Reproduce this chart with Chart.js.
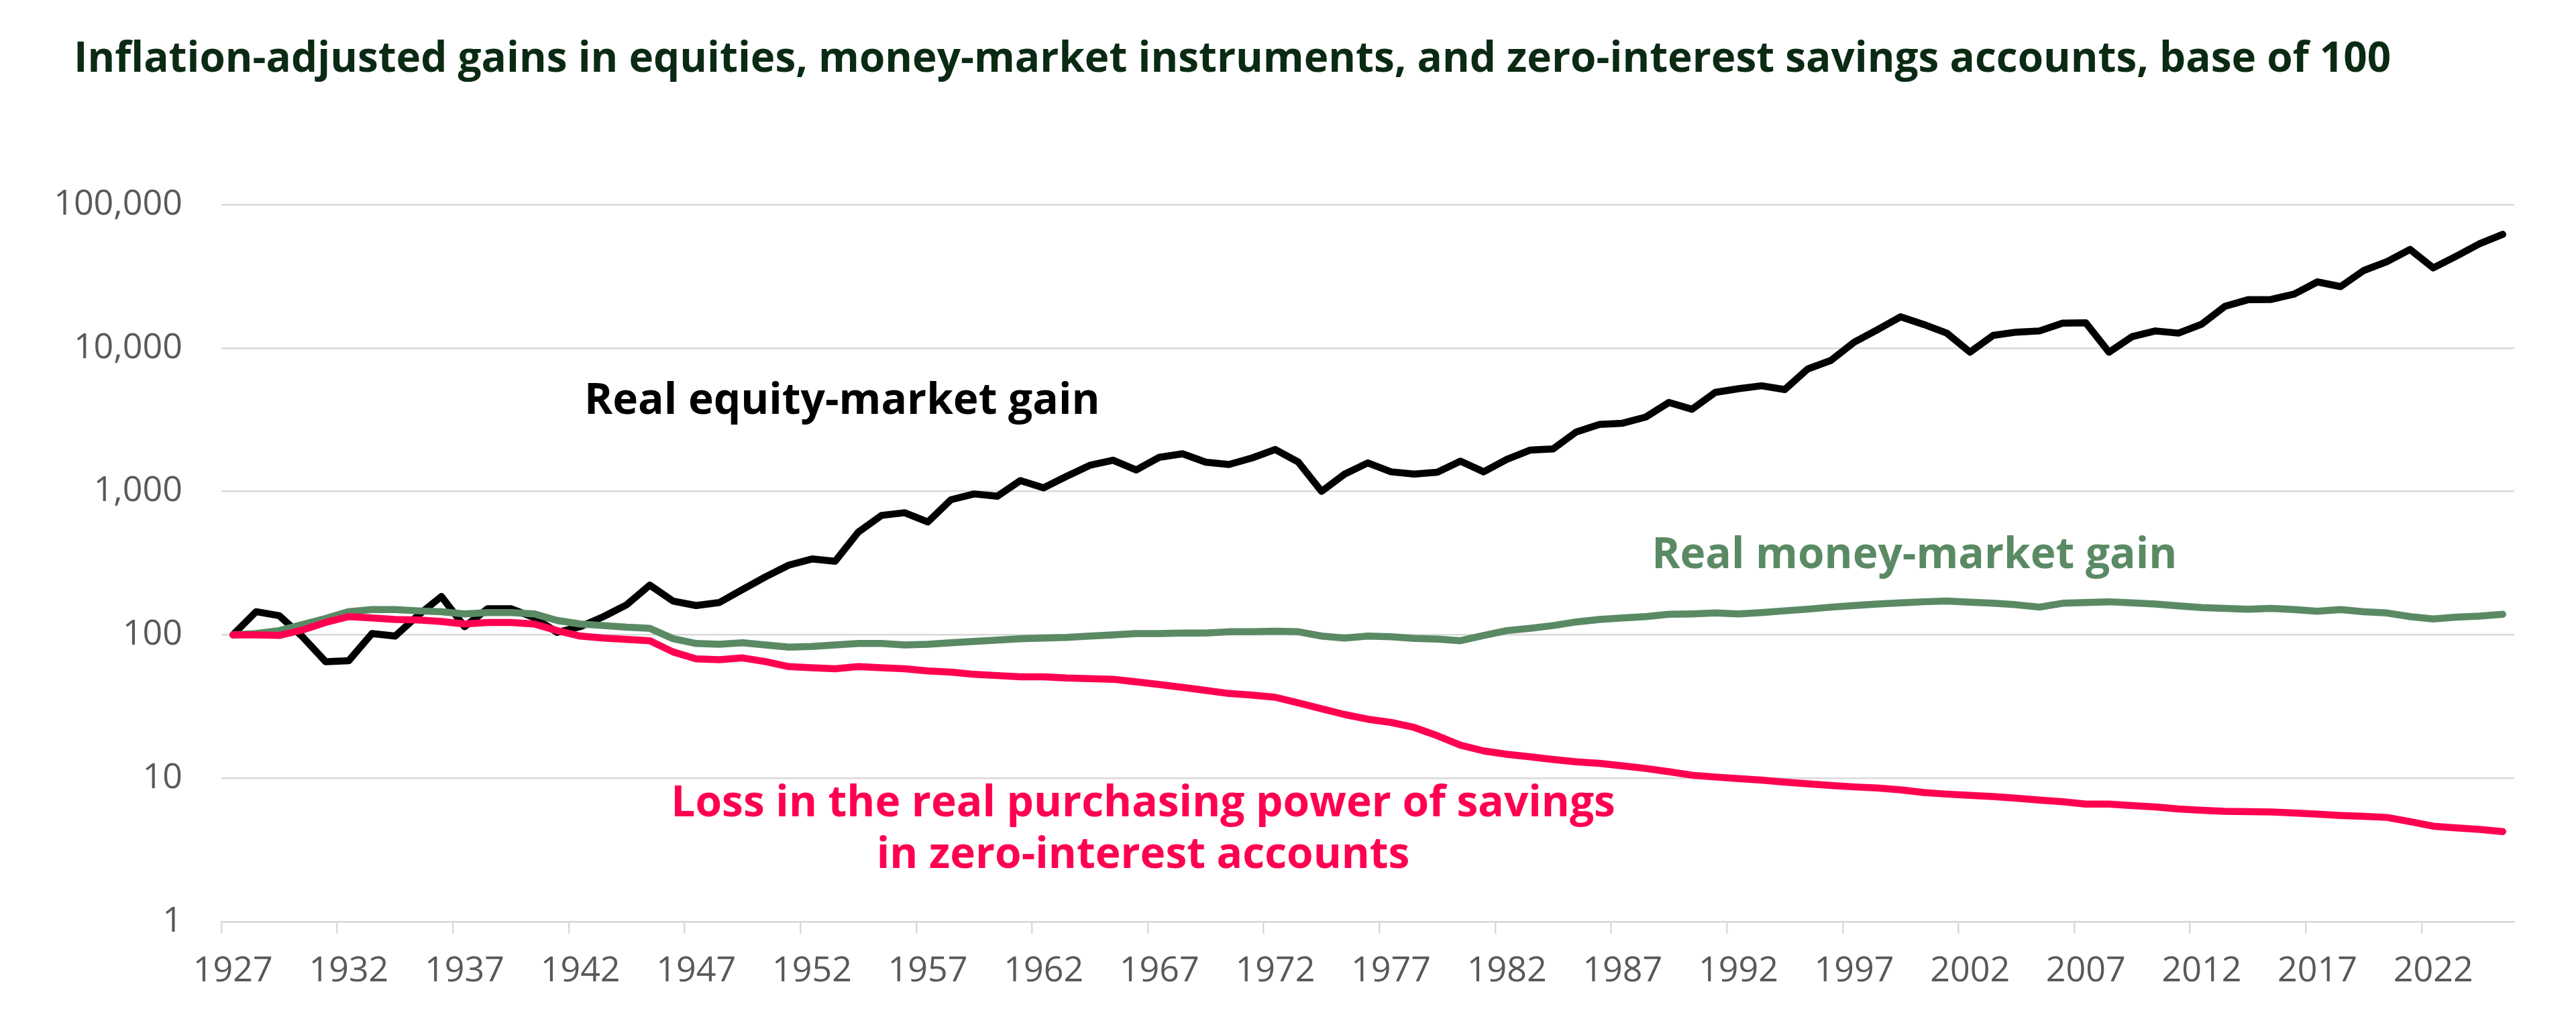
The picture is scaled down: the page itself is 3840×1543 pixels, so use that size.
<!DOCTYPE html>
<html>
<head>
<meta charset="utf-8">
<script src="https://cdn.jsdelivr.net/npm/chart.js@4.4.1/dist/chart.umd.min.js"></script>
<style>
html,body{margin:0;padding:0;background:#ffffff;}
#wrap{width:3840px;height:1543px;position:relative;}
</style>
</head>
<body>
<div id="wrap"><canvas id="c"></canvas></div>
<script>
const years = [1927,1928,1929,1930,1931,1932,1933,1934,1935,1936,1937,1938,1939,1940,1941,1942,1943,1944,1945,1946,
1947,1948,1949,1950,1951,1952,1953,1954,1955,1956,1957,1958,1959,1960,1961,1962,1963,1964,1965,1966,
1967,1968,1969,1970,1971,1972,1973,1974,1975,1976,1977,1978,1979,1980,1981,1982,1983,1984,1985,1986,
1987,1988,1989,1990,1991,1992,1993,1994,1995,1996,1997,1998,1999,2000,2001,2002,2003,2004,2005,2006,
2007,2008,2009,2010,2011,2012,2013,2014,2015,2016,2017,2018,2019,2020,2021,2022,2023,2024,2025];

const equityGain = [100,145,136,97,65,66,102,98,137,185,114,152,152,132,104,114,134,162,222,172,
160,168,207,254,306,338,326,520,680,710,612,875,960,925,1190,1060,1275,1520,1650,1410,
1730,1830,1600,1540,1710,1960,1600,1000,1320,1580,1370,1320,1360,1625,1370,1670,1940,1980,2600,2930,
2990,3300,4170,3740,4900,5200,5450,5130,7150,8200,10980,13400,16500,14600,12700,9350,12240,12900,13150,14900,
15000,9350,12000,13150,12700,14650,19500,21700,21800,23800,28900,26800,34700,40000,48700,36200,43700,53300,62000];

const moneyMarketGain = [100,102,107,118,130,145,150,150,147,145,140,143,143,140,126,119,116,113,111,94,
87,86,88,85,82,83,85,87,87,85,86,88,90,92,94,95,96,98,100,102,
102,103,103,105,105,106,105,98,95,98,97,94.5,93.5,91,99,107,111,116,123,128,
131,134,139,140,142,140,143,147,151,156,160,164,167,170,172,169,166,162,156,166,
168,170,167,164,159,155,153,151,153,150,146,150,145,142,134,129,133,135,139];

const zeroInterestSavings = [100,100,99,108,122,134,131,128,127,124,119,122,122,119,107,98,95,93,91,76,
68,67,69,65,60,59,58,60,59,58,56,55,53,52,51,51,50,49.5,49,47,
45,43,41,39,38,36.7,33.5,30.5,27.8,25.8,24.5,22.6,19.8,17,15.5,14.7,14.1,13.5,13,12.7,
12.2,11.7,11.1,10.5,10.2,9.95,9.7,9.4,9.15,8.9,8.7,8.55,8.3,7.95,7.75,7.6,7.45,7.25,7.05,6.85,
6.6,6.6,6.45,6.3,6.1,5.97,5.88,5.85,5.82,5.72,5.62,5.5,5.42,5.33,4.98,4.63,4.5,4.4,4.25];

const xTickYears = [1927,1932,1937,1942,1947,1952,1957,1962,1967,1972,1977,1982,1987,1992,1997,2002,2007,2012,2017,2022];
const yTickValues = [1,10,100,1000,10000,100000];

const titleText = 'Inflation-adjusted gains in equities, money-market instruments, and zero-interest savings accounts, base of 100';
const seriesNames = ['Real equity-market gain','Real money-market gain','Loss in the real purchasing power of savings'];

const COLORS = { equity:'#000000', money:'#5a8a64', savings:'#ff0050', title:'#0b2a13', axis:'#595959', grid:'#d9d9d9' };

// annotation anchors in data space: x = category index, y = value (baseline)
const annotations = [
  { text:'Real equity-market gain', x:26.3, y:3470, color:COLORS.equity },
  { text:'Real money-market gain', x:72.6, y:292, color:COLORS.money },
  { text:'Loss in the real purchasing power of savings', x:39.3, y:5.42, color:COLORS.savings },
  { text:'in zero-interest accounts', x:39.3, y:2.37, color:COLORS.savings }
];

const textPlugin = {
  id:'textPlugin',
  afterDraw(chart){
    const ctx = chart.ctx;
    ctx.save();
    ctx.textBaseline = 'alphabetic';
    ctx.font = '700 62px "Open Sans"';
    ctx.fillStyle = COLORS.title;
    ctx.textAlign = 'left';
    ctx.fillText(titleText, 110, 107);
    const xs = chart.scales.x, ys = chart.scales.y;
    ctx.font = '700 64px "Open Sans"';
    ctx.textAlign = 'center';
    annotations.forEach(a => {
      ctx.fillStyle = a.color;
      ctx.fillText(a.text, xs.getPixelForValue(a.x), ys.getPixelForValue(a.y));
    });
    ctx.restore();
  }
};

const tickColorFn = (c) => (c.index !== undefined && xTickYears.includes(years[c.index])) ? COLORS.grid : 'rgba(0,0,0,0)';

new Chart(document.getElementById('c'), {
  type:'line',
  data:{
    labels: years,
    datasets:[
      { label:seriesNames[0], data:equityGain, borderColor:COLORS.equity, order:3 },
      { label:seriesNames[1], data:moneyMarketGain, borderColor:COLORS.money, order:2 },
      { label:seriesNames[2], data:zeroInterestSavings, borderColor:COLORS.savings, order:1 }
    ]
  },
  options:{
    responsive:true,
    maintainAspectRatio:false,
    devicePixelRatio:1,
    animation:false,
    layout:{ padding:{ top:305, right:92, left:0, bottom:0 } },
    elements:{
      line:{ borderWidth:10.5, tension:0, borderJoinStyle:'round', borderCapStyle:'round', fill:false },
      point:{ radius:0, hoverRadius:0 }
    },
    plugins:{ legend:{display:false}, title:{display:false}, tooltip:{enabled:false} },
    scales:{
      x:{
        type:'category',
        offset:true,
        grid:{ offset:true, drawOnChartArea:false, drawTicks:true, tickLength:18, lineWidth:2.5, color:tickColorFn, tickColor:tickColorFn },
        border:{ display:true, color:COLORS.grid, width:2.5 },
        ticks:{
          autoSkip:false, maxRotation:0, minRotation:0, padding:25,
          color:COLORS.axis, font:{ family:'Open Sans', size:52 },
          callback:(v,i) => xTickYears.includes(years[i]) ? String(years[i]) : ''
        },
        afterFit:(s) => { s.height = 169; }
      },
      y:{
        type:'logarithmic',
        min:1, max:100000,
        afterBuildTicks:(s) => { s.ticks = yTickValues.map(v => ({ value:v })); },
        grid:{ color:COLORS.grid, lineWidth:2.5, drawTicks:false },
        border:{ display:false },
        ticks:{
          padding:58, color:COLORS.axis, font:{ family:'Open Sans', size:52 },
          callback:(v) => Number(v).toLocaleString('en-US')
        },
        afterFit:(s) => { s.width = 330; }
      }
    }
  },
  plugins:[textPlugin]
});
</script>
</body>
</html>
